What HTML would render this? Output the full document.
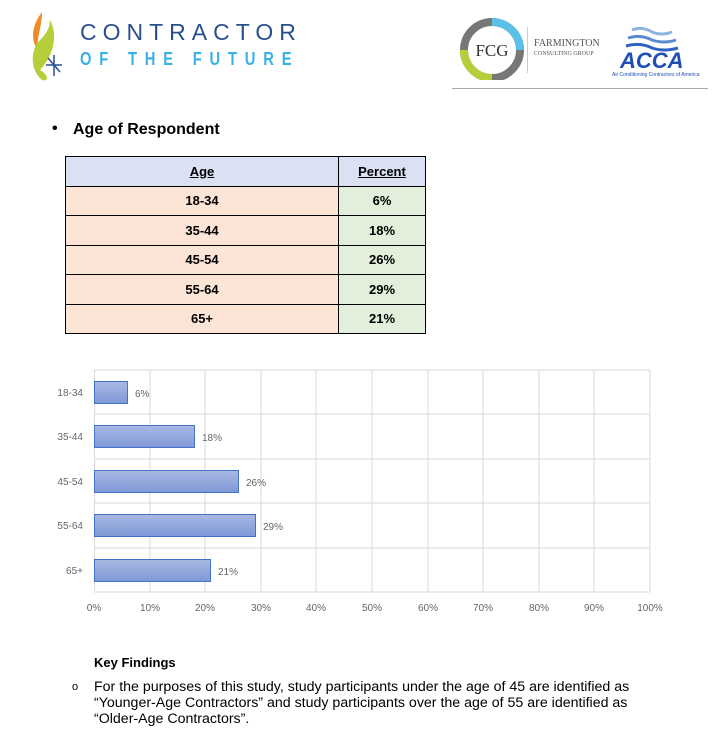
<!DOCTYPE html>
<html><head><meta charset="utf-8"><style>
body{margin:0;width:725px;height:736px;background:#fff;font-family:"Liberation Sans",Arial,sans-serif;position:relative;overflow:hidden}
.a{position:absolute}
table{border-collapse:collapse;position:absolute;left:65px;top:156px;width:361px;font-weight:bold;font-size:13px}
td{border:1.5px solid #000;text-align:center;height:28.5px;padding:0}
.h td{background:#d9e1f2;text-decoration:underline}
.l{background:#fce4d6;width:272px}.r{background:#e2efda}
</style></head><body>
<!-- left logo -->
<svg class="a" style="left:28px;top:10px" width="40" height="72">
<path d="M14 2 C4 15 2 30 10 40 C8 28 14 18 14 2Z" fill="#f08a24"/>
<path d="M22 10 C30 25 26 45 12 60 C22 66 20 72 14 70 C2 60 2 40 12 30 C18 24 22 18 22 10Z" fill="#b5cf3a"/>
<g stroke="#2a4f8e" stroke-width="1.5"><line x1="26" y1="45" x2="26" y2="66"/><line x1="18" y1="55" x2="34" y2="55"/><line x1="20" y1="48" x2="32" y2="62"/></g>
</svg>
<div class="a" style="left:80px;top:19px;font-size:23px;letter-spacing:6px;color:#2a4f8e">CONTRACTOR</div>
<div class="a" style="left:80px;top:49px;font-size:18px;letter-spacing:9.5px;color:#3ab0e6;font-weight:bold;transform:scaleX(0.82);transform-origin:left">OF THE FUTURE</div>
<!-- right logos -->
<svg class="a" style="left:458px;top:18px" width="70" height="62">
<circle cx="34" cy="32" r="28" fill="none" stroke="#777" stroke-width="8"/>
<path d="M34 4 A28 28 0 0 1 62 32" fill="none" stroke="#5bc0e8" stroke-width="8"/>
<path d="M6 32 A28 28 0 0 0 34 60" fill="none" stroke="#b5cf3a" stroke-width="8"/>
<circle cx="34" cy="32" r="22" fill="#fff"/>
<text x="34" y="38" font-family="Liberation Serif" font-size="17" text-anchor="middle" fill="#333">FCG</text>
</svg>
<div class="a" style="left:527px;top:27px;width:1px;height:46px;background:#ccc"></div>
<div class="a" style="left:534px;top:38px;font-family:'Liberation Serif',serif;font-size:10px;color:#555">FARMINGTON</div>
<div class="a" style="left:534px;top:51px;font-family:'Liberation Serif',serif;font-size:6px;color:#555">CONSULTING GROUP</div>
<svg class="a" style="left:612px;top:26px" width="96" height="52">
<path d="M20 4 q10 -4 20 2 q10 4 20 0" stroke="#8fb3e0" stroke-width="3" fill="none"/>
<path d="M16 12 q12 -4 24 2 q12 4 24 0" stroke="#5a8ad0" stroke-width="3" fill="none"/>
<path d="M14 20 q14 -4 26 2 q12 4 26 0" stroke="#2e62c0" stroke-width="3" fill="none"/>
<text x="8" y="42" font-size="22" font-weight="bold" fill="#1d4fb8" font-style="italic">ACCA</text>
<text x="0" y="50" font-size="5" fill="#1d4fb8">Air Conditioning Contractors of America</text>
</svg>
<div class="a" style="left:452px;top:88px;width:256px;height:1px;background:#aaa"></div>

<div class="a" style="left:52px;top:120px;font-size:16px;font-weight:bold">•</div>
<div class="a" style="left:73px;top:121px;font-size:16px;font-weight:bold">Age of Respondent</div>
<table>
<tr class="h"><td class="l" style="background:#d9e1f2">Age</td><td class="r" style="background:#d9e1f2">Percent</td></tr>
<tr><td class="l">18-34</td><td class="r">6%</td></tr>
<tr><td class="l">35-44</td><td class="r">18%</td></tr>
<tr><td class="l">45-54</td><td class="r">26%</td></tr>
<tr><td class="l">55-64</td><td class="r">29%</td></tr>
<tr><td class="l">65+</td><td class="r">21%</td></tr>
</table>

<svg class="a" style="left:0;top:360px" width="725" height="270" font-family="Liberation Sans" font-size="10" fill="#666">
<defs><linearGradient id="g" x1="0" y1="0" x2="0" y2="1"><stop offset="0" stop-color="#a9b9e3"/><stop offset="1" stop-color="#7f98d6"/></linearGradient></defs>
<g stroke="#d9d9d9" stroke-width="1">
<line x1="94" y1="10" x2="650" y2="10"/><line x1="94" y1="54" x2="650" y2="54"/><line x1="94" y1="99" x2="650" y2="99"/><line x1="94" y1="143" x2="650" y2="143"/><line x1="94" y1="188" x2="650" y2="188"/><line x1="94" y1="232" x2="650" y2="232"/>
<line x1="94.5" y1="10" x2="94.5" y2="232"/><line x1="150" y1="10" x2="150" y2="232"/><line x1="205" y1="10" x2="205" y2="232"/><line x1="261" y1="10" x2="261" y2="232"/><line x1="316" y1="10" x2="316" y2="232"/><line x1="372" y1="10" x2="372" y2="232"/><line x1="428" y1="10" x2="428" y2="232"/><line x1="483" y1="10" x2="483" y2="232"/><line x1="539" y1="10" x2="539" y2="232"/><line x1="594" y1="10" x2="594" y2="232"/><line x1="650" y1="10" x2="650" y2="232"/>
</g>
<g fill="url(#g)" stroke="#4472c4" stroke-width="1">
<rect x="94.5" y="21.5" width="33" height="22"/>
<rect x="94.5" y="65.5" width="100" height="22"/>
<rect x="94.5" y="110.5" width="144" height="22"/>
<rect x="94.5" y="154.5" width="161" height="22"/>
<rect x="94.5" y="199.5" width="116" height="22"/>
</g>
<g text-anchor="end"><text x="83" y="36">18-34</text><text x="83" y="80">35-44</text><text x="83" y="125">45-54</text><text x="83" y="169">55-64</text><text x="83" y="214">65+</text></g>
<text x="135" y="37">6%</text><text x="202" y="81">18%</text><text x="246" y="126">26%</text><text x="263" y="170">29%</text><text x="218" y="215">21%</text>
<g text-anchor="middle"><text x="94" y="251">0%</text><text x="150" y="251">10%</text><text x="205" y="251">20%</text><text x="261" y="251">30%</text><text x="316" y="251">40%</text><text x="372" y="251">50%</text><text x="428" y="251">60%</text><text x="483" y="251">70%</text><text x="539" y="251">80%</text><text x="594" y="251">90%</text><text x="650" y="251">100%</text></g>
</svg>

<div class="a" style="left:94px;top:655px;font-size:13px;font-weight:bold">Key Findings</div>
<div class="a" style="left:72px;top:681px;font-size:11px">o</div>
<div class="a" style="left:94px;top:679px;font-size:14.2px;line-height:16px;white-space:nowrap">For the purposes of this study, study participants under the age of 45 are identified as<br>“Younger-Age Contractors” and study participants over the age of 55 are identified as<br>“Older-Age Contractors”.</div>
</body></html>
